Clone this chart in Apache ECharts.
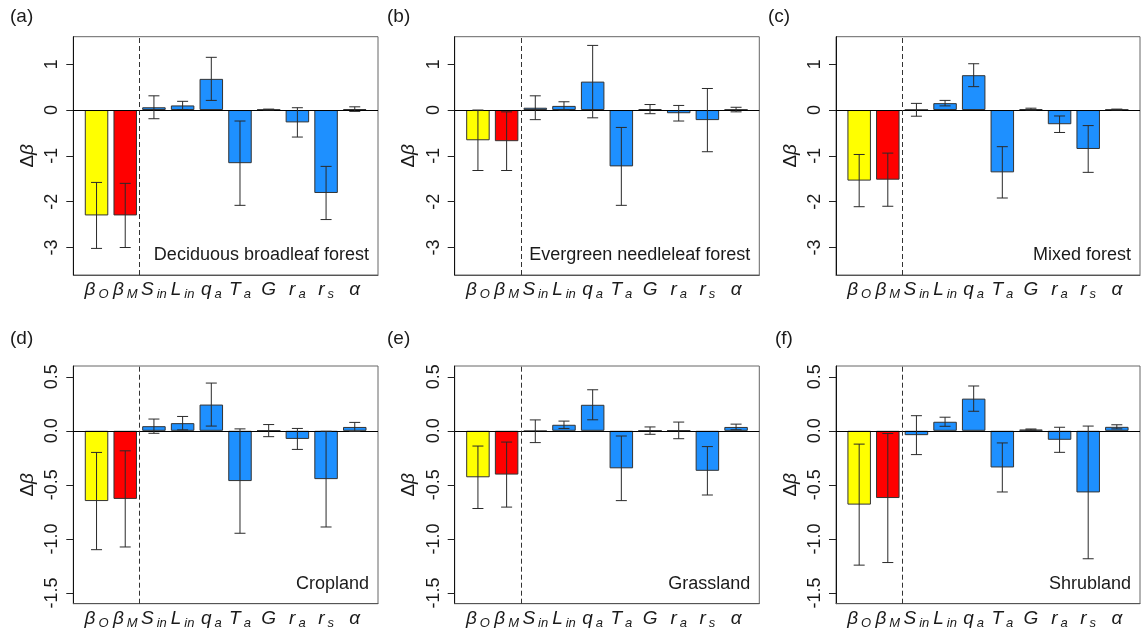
<!DOCTYPE html>
<html>
<head>
<meta charset="utf-8">
<script src="https://cdn.jsdelivr.net/npm/echarts@6/dist/echarts.min.js"></script>
<style>
  html, body { margin: 0; padding: 0; background: #ffffff; }
  #chart { width: 1141px; height: 635px; }
</style>
</head>
<body>
<div id="chart"></div>
<script>
// Drivers of the change in Bowen ratio (Δβ), mean ± spread, for six land-cover types.
const categories = ['βO', 'βM', 'Sin', 'Lin', 'qa', 'Ta', 'G', 'ra', 'rs', 'α'];
const tickLabels = [
  '{m|β}{s|O}', '{m|β}{s|M}', '{m|S}{s|in}', '{m|L}{s|in}', '{m|q}{s|a}',
  '{m|T}{s|a}', '{m|G}', '{m|r}{s|a}', '{m|r}{s|s}', '{m|α}'
];

const forestTicks = [-3, -2, -1, 0, 1];
const openTicks = [-1.5, -1.0, -0.5, 0.0, 0.5];

// (a) Deciduous broadleaf forest
const dbfMean = [-2.30, -2.30, 0.06, 0.10, 0.68, -1.16, 0.01, -0.27, -1.81, 0.02];
const dbfErr  = [0.72, 0.70, 0.25, 0.09, 0.47, 0.92, 0.01, 0.32, 0.58, 0.05];
// (b) Evergreen needleleaf forest
const enfMean = [-0.66, -0.68, 0.05, 0.09, 0.62, -1.23, 0.02, -0.07, -0.22, 0.01];
const enfErr  = [0.66, 0.64, 0.26, 0.09, 0.79, 0.85, 0.10, 0.17, 0.69, 0.05];
// (c) Mixed forest
const mfMean = [-1.54, -1.52, 0.005, 0.15, 0.76, -1.36, 0.02, -0.31, -0.85, 0.01];
const mfErr  = [0.57, 0.58, 0.14, 0.06, 0.25, 0.56, 0.02, 0.18, 0.51, 0.01];
// (d) Cropland
const croMean = [-0.65, -0.63, 0.043, 0.071, 0.243, -0.465, 0.002, -0.075, -0.447, 0.036];
const croErr  = [0.45, 0.445, 0.066, 0.062, 0.199, 0.483, 0.056, 0.097, 0.443, 0.042];
// (e) Grassland
const graMean = [-0.43, -0.405, -0.004, 0.056, 0.241, -0.347, 0.002, 0.004, -0.37, 0.036];
const graErr  = [0.289, 0.301, 0.105, 0.034, 0.139, 0.299, 0.034, 0.077, 0.224, 0.026];
// (f) Shrubland
const shrMean = [-0.683, -0.622, -0.04, 0.084, 0.298, -0.339, 0.012, -0.083, -0.57, 0.037];
const shrErr  = [0.56, 0.597, 0.18, 0.042, 0.117, 0.227, 0.005, 0.116, 0.614, 0.019];

const panelTags = ['(a)', '(b)', '(c)', '(d)', '(e)', '(f)'];
const coverNames = ['Deciduous broadleaf forest', 'Evergreen needleleaf forest', 'Mixed forest',
                    'Cropland', 'Grassland', 'Shrubland'];

// styling and layout
const FONT = '"Liberation Sans", Arial, Helvetica, sans-serif';
const TEXT = '#1a1a1a';
const barColors = ['#FFFF00', '#FF0000', '#1E90FF', '#1E90FF', '#1E90FF',
                   '#1E90FF', '#1E90FF', '#1E90FF', '#1E90FF', '#1E90FF'];
const cols = [{ left: 73.3, width: 304.7 }, { left: 454.7, width: 304.6 }, { left: 836, width: 304 }];
const rows = [{ top: 36.7, height: 238.3, min: -3.6, max: 1.6, ticks: forestTicks, dec: 0 },
              { top: 366, height: 237.7, min: -1.6, max: 0.6, ticks: openTicks, dec: 1 }];
const tagPos = [[10, 17], [387, 17], [768, 17], [10, 339], [387, 339], [775, 339]];

const panels = [
  { mean: dbfMean, err: dbfErr }, { mean: enfMean, err: enfErr }, { mean: mfMean, err: mfErr },
  { mean: croMean, err: croErr }, { mean: graMean, err: graErr }, { mean: shrMean, err: shrErr }
];

const grids = [], xAxes = [], yAxes = [], series = [], graphics = [];
const idx = categories.map((c, i) => i);

panels.forEach((p, k) => {
  const col = cols[k % 3], row = rows[Math.floor(k / 3)];
  grids.push({
    left: col.left, top: row.top, width: col.width, height: row.height,
    show: true, borderColor: '#666', borderWidth: 1, backgroundColor: 'transparent'
  });
  xAxes.push({
    type: 'value', gridIndex: k, min: -0.81, max: 9.81, position: 'bottom',
    axisLine: { show: true, onZero: false, lineStyle: { color: '#555', width: 1 } },
    axisTick: { show: false },
    splitLine: { show: false },
    axisLabel: {
      customValues: idx, margin: 4,
      formatter: v => tickLabels[Math.round(v)] || '',
      rich: {
        m: { fontFamily: FONT, fontSize: 19, fontStyle: 'italic', color: TEXT, lineHeight: 22 },
        s: { fontFamily: FONT, fontSize: 13, fontStyle: 'italic', color: TEXT, lineHeight: 12,
             verticalAlign: 'bottom', padding: [0, 0, 0, 3] }
      }
    }
  });
  yAxes.push({
    type: 'value', gridIndex: k, min: row.min, max: row.max, position: 'left',
    name: '{d|Δ}{b|β}', nameLocation: 'middle', nameRotate: 90, nameGap: 36,
    nameTextStyle: {
      rich: {
        d: { fontFamily: FONT, fontSize: 19, color: TEXT },
        b: { fontFamily: FONT, fontSize: 19, fontStyle: 'italic', color: TEXT }
      }
    },
    axisLine: { show: true, onZero: false, lineStyle: { color: '#111', width: 1 } },
    axisTick: { show: true, length: 7, customValues: row.ticks, lineStyle: { color: '#222' } },
    splitLine: { show: false },
    axisLabel: {
      customValues: row.ticks, rotate: 90, margin: 12,
      fontFamily: FONT, fontSize: 18, color: TEXT,
      formatter: v => v.toFixed(row.dec)
    }
  });

  series.push({
    type: 'bar', xAxisIndex: k, yAxisIndex: k, barWidth: 23.5, z: 2,
    animation: false,
    data: p.mean.map((v, i) => ({
      value: [i, v],
      itemStyle: { color: barColors[i], borderColor: '#333', borderWidth: 1 }
    })),
    markLine: {
      silent: true, symbol: ['none', 'none'], label: { show: false }, animation: false,
      data: [
        { yAxis: 0, lineStyle: { type: 'solid', color: '#000', width: 1 } },
        { xAxis: 1.5, lineStyle: { type: [5, 3], color: '#333', width: 1 } }
      ]
    }
  });

  series.push({
    type: 'custom', xAxisIndex: k, yAxisIndex: k, z: 5, animation: false, silent: true,
    data: p.mean.map((v, i) => [i, v, p.err[i]]),
    renderItem: (params, api) => {
      const x = api.value(0), y = api.value(1), e = api.value(2);
      const hi = api.coord([x, y + e]);
      const lo = api.coord([x, y - e]);
      const cap = 5.5;
      const st = { stroke: '#2a2a2a', lineWidth: 1 };
      return {
        type: 'group',
        children: [
          { type: 'line', shape: { x1: hi[0], y1: hi[1], x2: lo[0], y2: lo[1] }, style: st },
          { type: 'line', shape: { x1: hi[0] - cap, y1: hi[1], x2: hi[0] + cap, y2: hi[1] }, style: st },
          { type: 'line', shape: { x1: lo[0] - cap, y1: lo[1], x2: lo[0] + cap, y2: lo[1] }, style: st }
        ]
      };
    }
  });

  // land-cover name in the lower right corner of the frame
  graphics.push({
    type: 'text', x: col.left + col.width - 9, y: row.top + row.height - 20,
    style: { text: coverNames[k], textAlign: 'right', textVerticalAlign: 'middle',
             font: '18px ' + FONT, fill: TEXT }
  });
  // panel tag
  graphics.push({
    type: 'text', x: tagPos[k][0], y: tagPos[k][1],
    style: { text: panelTags[k], textAlign: 'left', textVerticalAlign: 'middle',
             font: '19px ' + FONT, fill: TEXT }
  });
});

const chart = echarts.init(document.getElementById('chart'), null, { renderer: 'canvas' });
chart.setOption({
  animation: false,
  backgroundColor: '#ffffff',
  textStyle: { fontFamily: FONT },
  grid: grids,
  xAxis: xAxes,
  yAxis: yAxes,
  series: series,
  graphic: graphics
});
</script>
</body>
</html>
